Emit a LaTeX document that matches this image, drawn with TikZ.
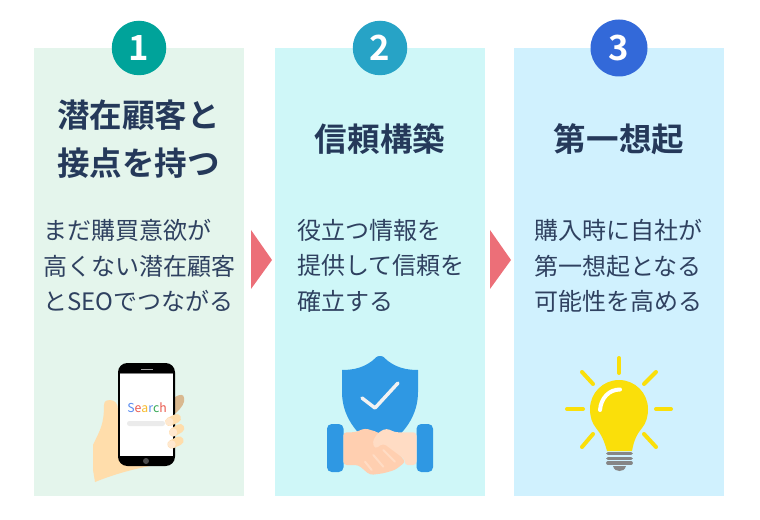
\documentclass[tikz,border=0pt]{standalone}
\usepackage{fontspec}
\setmainfont{Noto Sans CJK JP}
\newfontfamily\jpbold{Noto Sans CJK JP Bold}
\definecolor{panelA}{HTML}{E4F5EC}
\definecolor{panelB}{HTML}{CFF7F8}
\definecolor{panelC}{HTML}{D0F1FE}
\definecolor{badgeA}{HTML}{00A39A}
\definecolor{badgeB}{HTML}{27A3C6}
\definecolor{badgeC}{HTML}{3369D9}
\definecolor{navy}{HTML}{25395A}
\definecolor{bodygray}{HTML}{2F4160}
\definecolor{arrowred}{HTML}{EC6F78}
\definecolor{skin}{HTML}{FFDDAB}
\definecolor{skintip}{HTML}{FFE8CF}
\definecolor{skinback}{HTML}{D9B88F}
\definecolor{shieldblue}{HTML}{2F98E3}
\definecolor{handdark}{HTML}{FFCFB0}
\definecolor{handlight}{HTML}{FFDCC4}
\definecolor{bulbyellow}{HTML}{FADF0A}
\definecolor{basegray}{HTML}{868686}
\tikzset{
  panel/.style={fill=#1, draw=none},
  badge/.style={circle, fill=#1, minimum size=54.5*.75pt, inner sep=0pt, text=white, font=\jpbold\fontsize{26}{26}\selectfont},
  heading/.style={text=navy, align=center, font=\jpbold\fontsize{24.4}{35.6}\selectfont},
  bodytext/.style={text=bodygray, align=left, anchor=north west, inner sep=0pt, font=\fontsize{18}{26.6}\selectfont},
  ray/.style={draw=bulbyellow, line width=3pt, line cap=round},
  bar/.style={draw=basegray, line width=2.8pt, line cap=round}
}
\begin{document}
\begin{tikzpicture}[x=.75pt, y=-.75pt]
  \useasboundingbox (0, 0) rectangle (760, 520);

  % panels
  \fill[panel=panelA] (34, 48) rectangle (244, 496);
  \fill[panel=panelB] (275, 48) rectangle (485, 496);
  \fill[panel=panelC] (514, 48) rectangle (724, 496);

  \node[badge=badgeA] (badge1) at (139, 48) {1};
  \node[badge=badgeB] (badge2) at (380, 48) {2};
  \node[badge=badgeC, minimum size=57*.75pt] (badge3) at (619, 48) {3};

  \node[heading] (title1) at (138.5, 139) {潜在顧客と\\接点を持つ};
  \node[heading] (title2) at (380, 139) {信頼構築};
  \node[heading] (title3) at (619, 139) {第一想起};

  \node[bodytext] (text1) at (43, 219) {まだ購買意欲が\\高くない潜在顧客\\とSEOでつながる};
  \node[bodytext] (text2) at (297, 219) {役立つ情報を\\提供して信頼を\\確立する};
  \node[bodytext] (text3) at (534, 219) {購入時に自社が\\第一想起となる\\可能性を高める};

  % arrows between the panels
  \fill[arrowred] (251, 230) -- (272, 260) -- (251, 289) -- cycle;
  \fill[arrowred] (490, 230) -- (511, 260) -- (490, 289) -- cycle;

  % phone in hand
  \fill[skinback] (170, 400) -- (175, 397) .. controls (180, 394) and (184, 394) .. (184, 398)
    .. controls (185, 403) and (182, 407) .. (176, 413) -- (170, 413) -- cycle;
  \fill[skin] (93, 445) .. controls (100, 430) and (104, 425) .. (104, 405)
    .. controls (104, 400) and (108, 400) .. (110, 400) .. controls (115, 400) and (118, 404) .. (118, 410)
    -- (140, 466) -- (150, 466) .. controls (130, 470) and (115, 474) .. (95, 482) -- (93, 470) -- cycle;
  \fill[black, rounded corners=7pt] (118, 363) rectangle (175, 466);
  \fill[white] (120, 373) rectangle (173, 456);
  \draw[gray, line width=.6pt] (120, 373) -- (173, 373);
  \draw[gray!70, line width=.6pt] (141, 369) -- (153, 369);
  \fill[black!70] (146, 461) circle (3);
  \fill[black!8, rounded corners=1.8pt] (127, 421) rectangle (165, 426);
  \node[inner sep=0pt, font=\fontsize{9.2}{9.2}\selectfont] (searchword) at (147, 408)
    {\textcolor[HTML]{5B8DEF}{S}\textcolor[HTML]{EA5A4E}{e}\textcolor[HTML]{F8BC2C}{a}\textcolor[HTML]{5B8DEF}{r}\textcolor[HTML]{34A853}{c}\textcolor[HTML]{EA5A4E}{h}};
  \foreach \xa/\ya/\xb/\yb in {169.5/421.7/176.7/418.3, 173.3/432.3/180/428.3, 171.7/444.3/179.3/440.7} {
    \draw[skin, line width=6.5pt, line cap=round] (\xa, \ya) -- (\xb, \yb);
    \fill[skintip] (\xa, \ya) circle (4);
  }

  % shield and handshake
  \fill[shieldblue] (380, 356) .. controls (384, 356) and (384, 358) .. (388, 361)
    .. controls (396, 367) and (405, 370) .. (418, 370) -- (418, 392)
    .. controls (418, 415) and (405, 435) .. (380, 450)
    .. controls (355, 435) and (342, 415) .. (342, 392) -- (342, 370)
    .. controls (355, 370) and (364, 367) .. (372, 361)
    .. controls (376, 358) and (376, 356) .. (380, 356) -- cycle;
  \draw[white!95!black, line width=2.6pt, line cap=round, line join=round]
    (362, 398) -- (375, 408) -- (398, 383);
  \fill[shieldblue, rounded corners=3.5pt] (327, 424) rectangle (343.5, 472);
  \fill[shieldblue, rounded corners=3.5pt] (416.5, 424) rectangle (433, 472);
  \fill[handdark, rounded corners=2.5pt] (343.3, 432.3) -- (355, 432.3) -- (365, 428.3) -- (378.3, 432.3)
    -- (405.7, 461.7) -- (395, 470) -- (383.3, 473.3) -- (370, 475) -- (358.3, 465) -- (343.3, 465) -- cycle;
  \fill[handlight, rounded corners=2.5pt] (416.5, 432.3) -- (395, 432.3) -- (386.7, 428.3) -- (378.3, 432.3)
    -- (372.3, 441.7) -- (375, 449) -- (383.3, 443.3) -- (405.7, 460) -- (404.3, 465) -- (416.5, 465) -- cycle;
  \foreach \xa/\ya/\xb/\yb in {365/461.7/371.7/470, 373.3/455/383.3/466.7, 383.3/450/395/461.7} {
    \draw[handlight, line width=1.5pt, line cap=round] (\xa, \ya) -- (\xb, \yb);
  }

  % light bulb
  \foreach \xa/\ya/\xb/\yb in {619/358/619/373, 567/409/583/409, 656/409/671/409,
      582/372/593/384, 656/372/644/384, 593/434/582/447, 644/434/656/447} {
    \draw[ray] (\xa, \ya) -- (\xb, \yb);
  }
  \fill[bulbyellow] (607, 451) .. controls (604, 440) and (601, 434) .. (596, 428)
    .. controls (592, 423) and (590, 417) .. (590, 409) .. controls (590, 393) and (603, 380) .. (619, 380)
    .. controls (635, 380) and (648, 393) .. (648, 409) .. controls (648, 417) and (646, 423) .. (642, 428)
    .. controls (637, 434) and (634, 440) .. (632, 451) -- cycle;
  \draw[white, line width=3pt, line cap=round] (620, 389.5) .. controls (609, 389.5) and (601, 398) .. (600, 410);
  \foreach \by in {453.5, 458.5, 463} {
    \draw[bar] (608, \by) -- (631, \by);
  }
  \fill[basegray] (613, 466) -- (626, 466) .. controls (625, 470) and (622, 471) .. (619.5, 471)
    .. controls (617, 471) and (614, 470) .. (613, 466) -- cycle;
\end{tikzpicture}
\end{document}
